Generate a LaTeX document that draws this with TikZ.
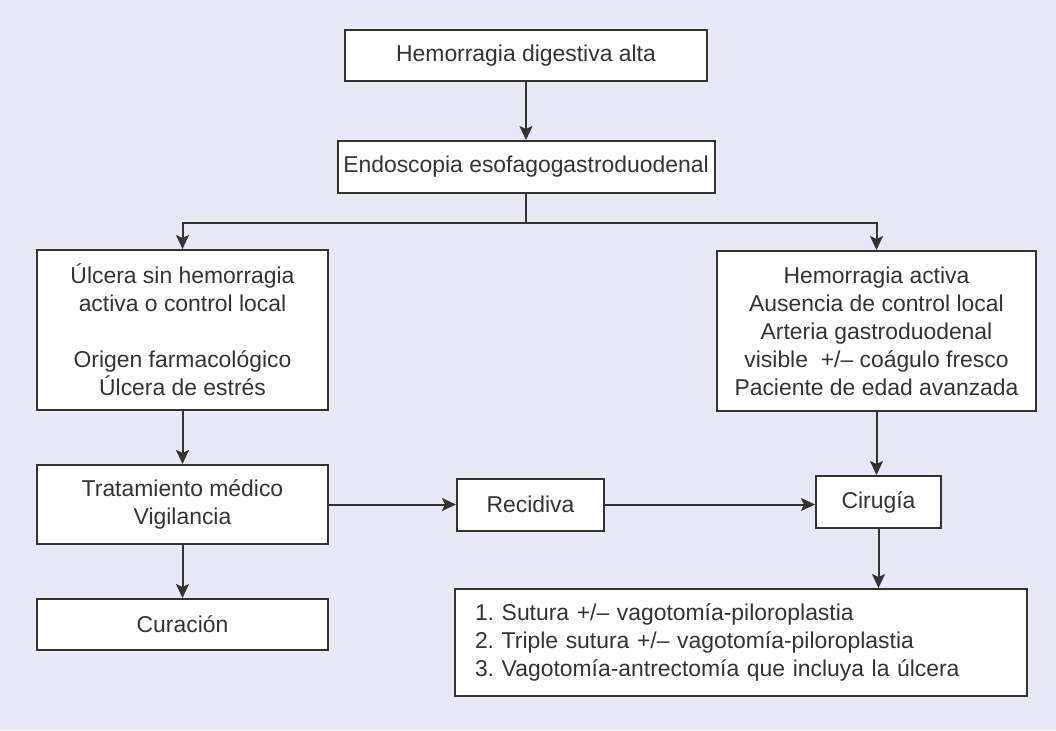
\documentclass[tikz,border=0pt]{standalone}
\usepackage{fontspec}
\setmainfont{Liberation Sans}
\usepackage{tikz}
\usetikzlibrary{arrows.meta,positioning}
\definecolor{bgcol}{HTML}{E8E9F4}
\definecolor{inkcol}{HTML}{333333}

\begin{document}
\begin{tikzpicture}[node distance=29pt,>={Stealth[length=7pt,width=6.5pt,inset=1.5pt]},
  every node/.style={font=\fontsize{11.45}{14}\selectfont\frenchspacing,text=inkcol},
  box/.style={draw=inkcol,line width=1pt,fill=white,align=center,inner sep=2pt},
  conn/.style={->,draw=inkcol,line width=1pt}]
\fill[bgcol] (0,0) rectangle (528pt,-365pt);
\node[box,minimum width=181pt,minimum height=25.5pt] (hda) at (263pt,-27.75pt) {Hemorragia digestiva alta};
\node[box,below=of hda,minimum width=188.5pt,minimum height=26pt] (endo) {Endoscopia esofagogastroduodenal};
\coordinate[below=14.5pt of endo.south] (split);
\node[box,minimum width=145.5pt,minimum height=80pt] (ulc) at (91.25pt,-165pt)
{\'Ulcera sin hemorragia\\activa o control local\\[14pt]Origen farmacol\'ogico\\\'Ulcera de estr\'es};
\node[box,minimum width=159.5pt,minimum height=80pt] (act) at (438.25pt,-165.5pt)
{Hemorragia activa\\Ausencia de control local\\Arteria gastroduodenal\\visible\ \ +/-- co\'agulo fresco\\Paciente de edad avanzada};
\node[box,below=26.5pt of ulc,minimum width=145.5pt,minimum height=39.5pt] (trat) {Tratamiento m\'edico\\Vigilancia};
\node[box,below=26.5pt of trat,minimum width=145.5pt,minimum height=25.5pt] (cur) {Curaci\'on};
\node[box,right=63.5pt of trat,minimum width=73.5pt,minimum height=26pt] (rec) {Recidiva};
\node[box,below=31.5pt of act,xshift=1pt,minimum width=62.5pt,minimum height=26pt] (cir) {Cirug\'ia};
\node[box,below=29.5pt of cir,xshift=-68.75pt,align=left,text width=266pt,inner xsep=10pt,minimum height=53.5pt] (proc)
{1. Sutura +/-- vagotom\'ia-piloroplastia\\2. Triple sutura +/-- vagotom\'ia-piloroplastia\\3. Vagotom\'ia-antrectom\'ia que incluya la \'ulcera};
\draw[conn] (hda) -- (endo);
\draw[conn,-] (endo) -- (split);
\draw[conn] (split) -| (ulc);
\draw[conn] (split) -| (act);
\draw[conn] (ulc) -- (trat);
\draw[conn] (trat) -- (cur);
\draw[conn] (trat) -- (rec);
\draw[conn] (rec) -- (rec -| cir.west);
\draw[conn] (act) -- (act |- cir.north);
\draw[conn] (cir) -- (cir |- proc.north);
\end{tikzpicture}
\end{document}
